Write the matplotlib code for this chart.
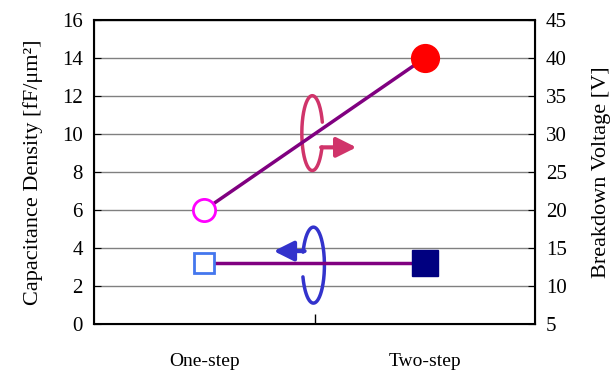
import numpy as np
import matplotlib.pyplot as plt

plt.rcParams['font.family'] = ['Liberation Serif', 'DejaVu Serif']

# data
categories = ['One-step', 'Two-step']
cap_density = [6, 14]        # fF/um^2 (left axis)
breakdown_v = [13, 13]       # V (right axis)

size = 15
purple = '#800080'

fig = plt.figure(figsize=(6.12, 3.72), dpi=100)
ax = fig.add_axes([0.1536, 0.129, 0.7206, 0.817])
ax2 = ax.twinx()

xpos = [1, 3]
ax.set_xlim(0, 4)
ax.set_ylim(0, 16)
ax2.set_ylim(5, 45)

# lines
ax.plot(xpos, cap_density, color=purple, lw=2.5, zorder=3)
ax2.plot(xpos, breakdown_v, color=purple, lw=2.5, zorder=2)

# markers
ax.plot(xpos[0], cap_density[0], 'o', ms=16, mfc='white', mec='#FF00FF', mew=2, zorder=4)
ax.plot(xpos[1], cap_density[1], 'o', ms=20, mfc='#FF0000', mec='#FF0000', zorder=4)
ax2.plot(xpos[0], breakdown_v[0], 's', ms=15, mfc='white', mec='#4477EE', mew=2, zorder=4)
ax2.plot(xpos[1], breakdown_v[1], 's', ms=19, mfc='#000080', mec='#000080', zorder=4)

# rotating arrows
def loop(axis, cx, cy, a, b, t1, t2, color):
    t = np.deg2rad(np.linspace(t1, t2, 200))
    axis.plot(cx + a * np.cos(t), cy + b * np.sin(t), color=color, lw=2.5,
              solid_capstyle='round', zorder=2)

red_c = '#D0346A'
blue_c = '#3333CC'
loop(ax, 1.98, 10.05, 0.095, 1.97, 17, 338, red_c)
ax.annotate('', xy=(2.38, 9.3), xytext=(2.06, 9.3),
            arrowprops=dict(arrowstyle='-|>', lw=3, color=red_c, mutation_scale=30, shrinkA=0, shrinkB=0),
            zorder=2)
loop(ax, 1.99, 3.1, 0.1, 2.0, 198, 520, blue_c)
ax.annotate('', xy=(1.63, 3.84), xytext=(1.91, 3.84),
            arrowprops=dict(arrowstyle='-|>', lw=3, color=blue_c, mutation_scale=30, shrinkA=0, shrinkB=0),
            zorder=2)

# axes styling
ax.set_yticks(np.arange(0, 17, 2))
ax2.set_yticks(np.arange(5, 46, 5))
ax.yaxis.grid(True, color='#808080', lw=1)
ax.set_axisbelow(True)
ax.set_xticks([2])
ax.set_xticklabels([''])
ax.tick_params(axis='x', direction='in', length=7, width=1)
ax.tick_params(axis='y', direction='in', length=5, labelsize=size, pad=8)
ax2.tick_params(axis='y', direction='in', length=5, labelsize=size, pad=8)
for i, c in enumerate(categories):
    ax.text(xpos[i], -1.95, c, ha='center', va='center', fontsize=size - 1)

for sp in ['left', 'right', 'top', 'bottom']:
    ax2.spines[sp].set_linewidth(1.5)

ax.set_ylabel('Capacitance Density [fF/\u03bcm\u00b2]', fontsize=16, labelpad=14)
ax2.set_ylabel('Breakdown Voltage [V]', fontsize=16, labelpad=18)

plt.savefig('out.png', dpi=100)
